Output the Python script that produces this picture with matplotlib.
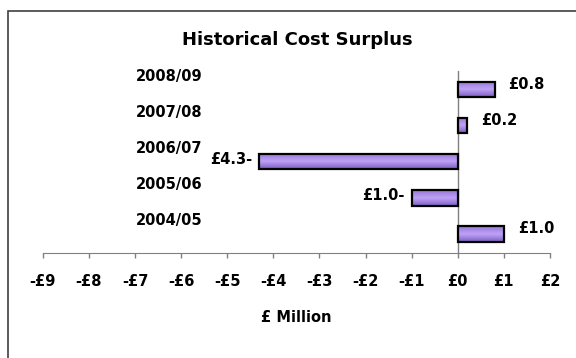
import numpy as np
import matplotlib.pyplot as plt
from matplotlib.colors import LinearSegmentedColormap
from matplotlib.patches import Rectangle
from matplotlib.transforms import blended_transform_factory

years = ['2004/05', '2005/06', '2006/07', '2007/08', '2008/09']
surplus = [1.0, -1.0, -4.3, 0.2, 0.8]   # £ million
x_ticks = list(range(-9, 3))

fig = plt.figure(figsize=(5.76, 3.58), dpi=100)
ax = fig.add_axes([0.0743, 0.2933, 0.8804, 0.5084])

pos = np.arange(len(years))
bars = ax.barh(pos, surplus, height=0.43, color='none', edgecolor='black',
               linewidth=1.6, zorder=3)

# purple fill, lighter band through the middle, darker towards the bottom
shade = LinearSegmentedColormap.from_list('shade', ['#9676d8', '#bea2f6', '#7d5dc2'])
grad = np.linspace(0, 1, 64).reshape(-1, 1)
for b in bars:
    x0, y0, w, h = b.get_x(), b.get_y(), b.get_width(), b.get_height()
    im = ax.imshow(grad, cmap=shade, aspect='auto', interpolation='bilinear',
                   origin='upper',
                   extent=(min(x0, x0 + w), max(x0, x0 + w), y0, y0 + h), zorder=2)
    im.set_clip_path(b)

# value labels, negatives written with a trailing minus
for v, p in zip(surplus, pos):
    if v >= 0:
        txt, off, ha = f'£{v:.1f}', (14, 5), 'left'
    else:
        txt, off, ha = f'£{abs(v):.1f}-', (-7, 2), 'right'
    ax.annotate(txt, (v, p), xytext=off, textcoords='offset pixels', ha=ha,
                va='center', fontsize=10.5, fontweight='bold')

# category names sit to the left, a little above each bar
trans = blended_transform_factory(ax.transAxes, ax.transData)
for name, p in zip(years, pos):
    ax.text(0.314, p + 0.375, name, transform=trans, ha='right', va='center',
            fontsize=10.5, fontweight='bold')

ax.set_xlim(-9, 2)
ax.set_ylim(-0.53, 4.515)
ax.set_xticks(x_ticks)
ax.set_xticklabels([f'-£{abs(t)}' if t < 0 else f'£{t}' for t in x_ticks],
                   fontsize=10.5, fontweight='bold')
ax.set_yticks([])
for s in ['top', 'right', 'left']:
    ax.spines[s].set_visible(False)
ax.spines['bottom'].set_color('#808080')
ax.tick_params(axis='x', color='#808080', length=3.6, width=1, pad=11.5)
ax.axvline(0, color='#808080', lw=1, zorder=1)
ax.set_xlabel('£ Million', fontsize=10.5, fontweight='bold', labelpad=15)

fig.text(0.5156, 0.888, 'Historical Cost Surplus', ha='center', va='center',
         fontsize=13, fontweight='bold')

# chart frame, running off the right and bottom edges
fig.patches.append(Rectangle((8 / 576, -0.05), 1.0, (358 - 11) / 358 + 0.05,
                             transform=fig.transFigure, fill=False,
                             edgecolor='#404040', lw=1.2))

fig.savefig('out.png', dpi=100)
